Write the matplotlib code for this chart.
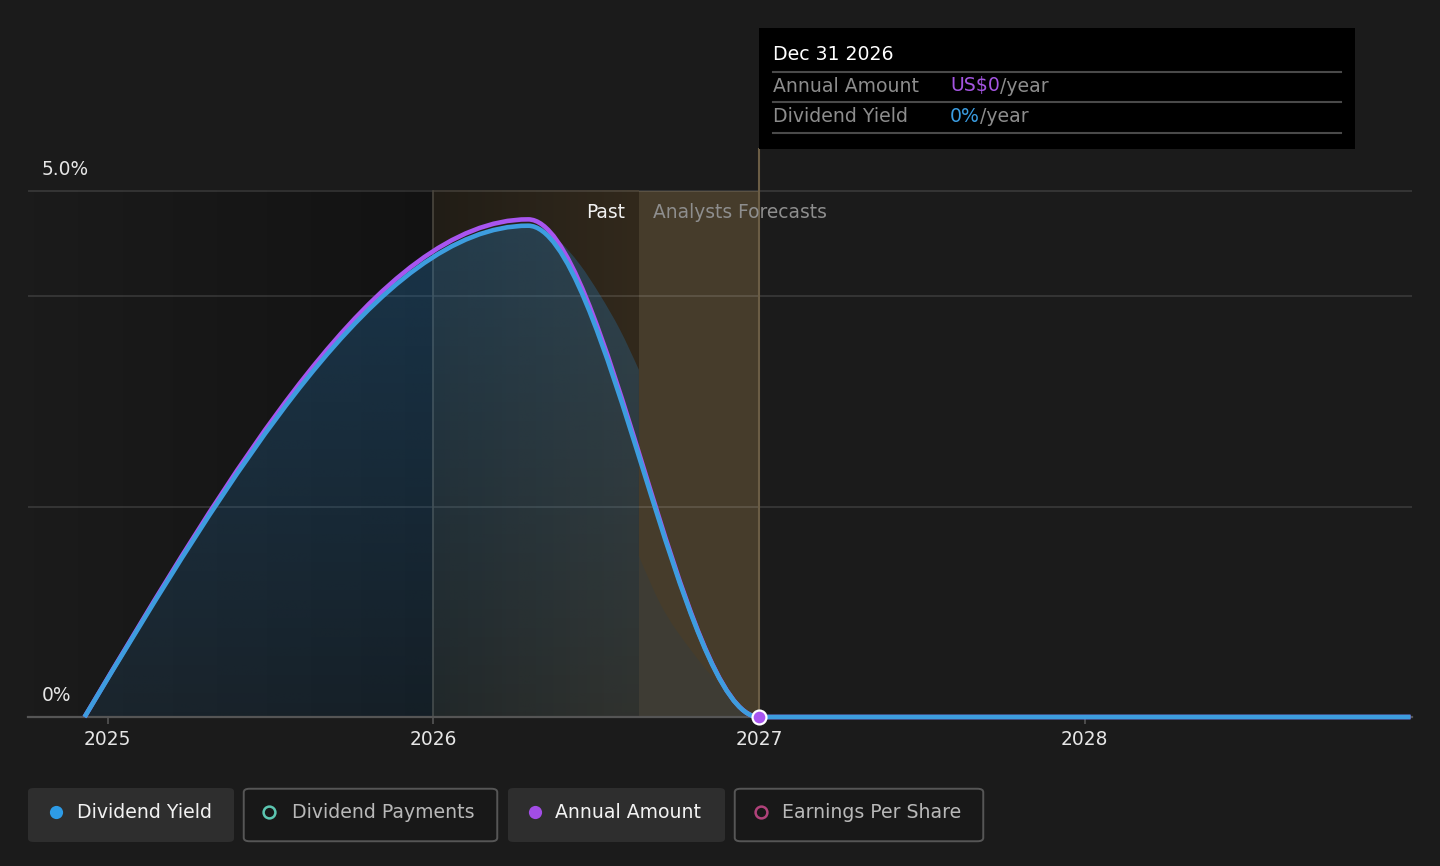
import numpy as np
import matplotlib
matplotlib.use("Agg")
import matplotlib.pyplot as plt
from matplotlib.patches import Rectangle, FancyBboxPatch, PathPatch
from matplotlib.lines import Line2D
from matplotlib.path import Path

plt.rcParams['font.family'] = ['DejaVu Sans']

# ---------------- data ----------------
series_x = [2024.929, 2026.291, 2027.000, 2028.000, 2029.000]
dividend_yield = [0.00, 4.67, 0.00, 0.00, 0.00]      # %
annual_amount = [0.00, 4.73, 0.00, 0.00, 0.00]       # drawn on the same scale

# shaded area under the past series (its right part lags the line)
area_top_x = [2024.929, 2026.291, 2026.380, 2026.450, 2026.512, 2026.573, 2026.631]
area_top_v = [0.00, 4.67, 4.54, 4.30, 4.01, 3.68, 3.30]
area_low_x = [2026.631, 2026.696, 2026.797, 2026.901, 2026.972, 2027.000]
area_low_v = [1.53, 1.08, 0.61, 0.23, 0.02, 0.00]

year_ticks = [2025, 2026, 2027, 2028]
y_ticks = [0, 5.0]
y_tick_labels = ["0%", "5.0%"]
grid_levels = [2.0, 4.0, 5.0]
past_start = 2026.0
forecast_start = 2026.631
forecast_end = 2027.0
tooltip_date = "Dec 31 2026"
legend_items = ["Dividend Yield", "Dividend Payments", "Annual Amount", "Earnings Per Share"]


def monotone_verts(xs, ys):
    """Monotone cubic (curveMonotoneX style) Bezier vertices through the points."""
    xs = np.asarray(xs, float)
    ys = np.asarray(ys, float)
    n = len(xs)
    h = np.diff(xs)
    s = np.diff(ys) / h
    t = np.zeros(n)
    for i in range(1, n - 1):
        h0, h1, s0, s1 = h[i - 1], h[i], s[i - 1], s[i]
        p = (s0 * h1 + s1 * h0) / (h0 + h1)
        t[i] = (np.sign(s0) + np.sign(s1)) * min(abs(s0), abs(s1), 0.5 * abs(p))
    t[0] = (3 * s[0] - t[1]) / 2
    t[-1] = (3 * s[-1] - t[-2]) / 2
    verts = [(xs[0], ys[0])]
    codes = [Path.MOVETO]
    for i in range(n - 1):
        dx = h[i] / 3
        verts += [(xs[i] + dx, ys[i] + dx * t[i]),
                  (xs[i + 1] - dx, ys[i + 1] - dx * t[i + 1]),
                  (xs[i + 1], ys[i + 1])]
        codes += [Path.CURVE4] * 3
    return verts, codes


def monotone_path(xs, ys):
    v, c = monotone_verts(xs, ys)
    return Path(v, c)


# ---------------- figure ----------------
W, H = 1440, 866
BG = '#1b1b1b'
fig = plt.figure(figsize=(W / 100, H / 100), dpi=100, facecolor=BG)


def fx(px):
    return px / W


def fy(py):
    return 1 - py / H


PXY = 325.7          # px per year
X0 = 2025 - (107.7 - 28) / PXY
X1 = 2025 + (1412 - 107.7) / PXY
YMAX = 5.4
ax = fig.add_axes([fx(28), fy(717), fx(1412) - fx(28), 568.1 / H])
ax.set_facecolor(BG)
for s in ax.spines.values():
    s.set_visible(False)

# background bands
left_grad = np.zeros((2, 256, 4))
left_grad[..., 3] = np.linspace(0.0, 0.32, 256)[None, :]
ax.imshow(left_grad, extent=[X0, past_start, 0, 5.0], origin='lower',
          aspect='auto', zorder=0.5, interpolation='bilinear')

past_grad = np.zeros((2, 256, 4))
c0 = np.array([33, 29, 22]) / 255
c1 = np.array([50, 41, 28]) / 255
tt = np.linspace(0, 1, 256)
past_grad[..., :3] = (c0[None, :] * (1 - tt[:, None]) + c1[None, :] * tt[:, None])[None, :, :]
past_grad[..., 3] = 1.0
ax.imshow(past_grad, extent=[past_start, forecast_start, 0, 5.0], origin='lower',
          aspect='auto', zorder=0.5, interpolation='bilinear')
ax.add_patch(Rectangle((forecast_start, 0), forecast_end - forecast_start, 5.0,
                       facecolor='#463c2b', edgecolor='none', zorder=0.5))

# grid
for g in grid_levels:
    ax.axhline(g, color='white', alpha=0.15, lw=1.1, zorder=1)

# vertical markers
ax.plot([past_start, past_start], [0, 5.0], color='#4a463e', lw=1.2, zorder=1.5)
ax.plot([forecast_end, forecast_end], [0, YMAX], color='#6b5d45', lw=1.5,
        zorder=1.5, clip_on=False)

# gradient fill under the series
tv, tc = monotone_verts(area_top_x, area_top_v)
lv, lc = monotone_verts(area_low_x, area_low_v)
lc = [Path.LINETO] + lc[1:]
verts = tv + lv + [(area_low_x[-1], 0), (area_top_x[0], 0), (area_top_x[0], area_top_v[0])]
codes = tc + lc + [Path.LINETO, Path.LINETO, Path.CLOSEPOLY]
area_path = Path(verts, codes)

clip = PathPatch(area_path, transform=ax.transData, facecolor='none', edgecolor='none')
ax.add_patch(clip)
fill_grad = np.zeros((256, 2, 4))
fill_grad[..., :3] = np.array([40, 125, 190]) / 255
fill_grad[..., 3] = np.linspace(0.12, 0.33, 256)[:, None]
im = ax.imshow(fill_grad, extent=[X0, forecast_start, 0, 4.8], origin='lower',
               aspect='auto', zorder=2, interpolation='bilinear')
im.set_clip_path(clip)
fc_patch = PathPatch(area_path, transform=ax.transData, facecolor='#3e3c34',
                     edgecolor='none', zorder=2)
ax.add_patch(fc_patch)
fc_patch.set_clip_path(Rectangle((forecast_start, 0), forecast_end - forecast_start, 5.0,
                                 transform=ax.transData))

# baseline
ax.plot([X0, X1], [0, 0], color='#555555', lw=1.6, zorder=2.5, clip_on=False)

# series lines
ax.add_patch(PathPatch(monotone_path(series_x, annual_amount), transform=ax.transData,
                       facecolor='none', edgecolor='#a855f0', lw=3.3, zorder=3,
                       capstyle='butt', joinstyle='round', clip_on=False))
ax.add_patch(PathPatch(monotone_path(series_x, dividend_yield), transform=ax.transData,
                       facecolor='none', edgecolor='#3d9ddf', lw=3.3, zorder=4,
                       capstyle='butt', joinstyle='round', clip_on=False))
ax.plot([forecast_end], [0], marker='o', ms=10, mfc='#a855f0', mec='white',
        mew=1.6, zorder=5, clip_on=False)

ax.set_xlim(X0, X1)
ax.set_ylim(0, YMAX)

# ticks
ax.set_xticks(year_ticks)
ax.set_xticklabels([str(y) for y in year_ticks])
ax.tick_params(axis='x', length=5, width=1.2, color='#555555', pad=4.5,
               labelsize=13.4, labelcolor='#e6e6e6', direction='out')
ax.set_yticks([])

# y labels
for v, lab in zip(y_ticks, y_tick_labels):
    ax.text(0.0101, v + 0.2, lab, transform=ax.get_yaxis_transform(),
            color='#e6e6e6', fontsize=13.4, va='center', ha='left', zorder=6)

# Past / forecast labels
ax.text(2026.588, 4.8, "Past", color='#f2f2f2', fontsize=13.4,
        ha='right', va='center', zorder=6)
ax.text(2026.674, 4.8, "Analysts Forecasts", color='#8e8e8e', fontsize=13.4,
        ha='left', va='center', zorder=6)

# ---------------- tooltip ----------------
fig.add_artist(Rectangle((fx(759), fy(149)), fx(1355) - fx(759), fy(28) - fy(149),
                         transform=fig.transFigure, facecolor='black',
                         edgecolor='none', zorder=10))
for ly in [72, 102, 133]:
    fig.add_artist(Line2D([fx(773), fx(1341)], [fy(ly), fy(ly)],
                          transform=fig.transFigure, color='#4a4a4a', lw=1.5, zorder=11))
fs = 13.6
renderer = fig.canvas.get_renderer()


def two_tone(x_px, y_px, first, c_first, second, c_second):
    t1 = fig.text(fx(x_px), fy(y_px), first, color=c_first, fontsize=fs,
                  va='center', zorder=12)
    bb = t1.get_window_extent(renderer=renderer)
    fig.text(bb.x1 / W, fy(y_px), second, color=c_second, fontsize=fs,
             va='center', zorder=12)


fig.text(fx(773), fy(54), tooltip_date, color='white', fontsize=fs, va='center', zorder=12)
fig.text(fx(773), fy(86), "Annual Amount", color='#8c8c8c', fontsize=fs, va='center', zorder=12)
two_tone(950, 86, "US$0", '#a455e0', "/year", '#8c8c8c')
fig.text(fx(773), fy(116), "Dividend Yield", color='#8c8c8c', fontsize=fs, va='center', zorder=12)
two_tone(950, 116, "0%", '#3a9ce0', "/year", '#8c8c8c')

# ---------------- legend ----------------
buttons = [
    (28, 234, True, '#2d9be6', True, '#f2f2f2', 56, 77),
    (243, 498, False, '#5cc6b1', False, '#b8b8b8', 269, 292),
    (508, 725, True, '#a24de6', True, '#f2f2f2', 535, 555),
    (734, 984, False, '#b0427a', False, '#b8b8b8', 761, 782),
]
for (x0, x1, filled, dcol, dfill, tcol, dx, tx), label in zip(buttons, legend_items):
    y0, y1 = 788, 842
    if filled:
        box = FancyBboxPatch((fx(x0), fy(y1)), fx(x1) - fx(x0), fy(y0) - fy(y1),
                             boxstyle="round,pad=0,rounding_size=0.004",
                             transform=fig.transFigure, facecolor='#2e2e2e',
                             edgecolor='none', zorder=10)
    else:
        box = FancyBboxPatch((fx(x0 + 0.75), fy(y1 - 0.75)), fx(x1 - x0 - 1.5),
                             fy(y0) - fy(y1 - 1.5),
                             boxstyle="round,pad=0,rounding_size=0.004",
                             transform=fig.transFigure, facecolor='#181818',
                             edgecolor='#565656', lw=1.4, zorder=10)
    fig.add_artist(box)
    fig.add_artist(Line2D([fx(dx)], [fy(812)], marker='o', ms=9.5 if dfill else 8.5,
                          mfc=dcol if dfill else 'none', mec=dcol,
                          mew=0 if dfill else 1.8, transform=fig.transFigure, zorder=11))
    fig.text(fx(tx), fy(812), label, color=tcol, fontsize=13.6, va='center', zorder=12)

fig.savefig("out.png", dpi=100, facecolor=BG)
